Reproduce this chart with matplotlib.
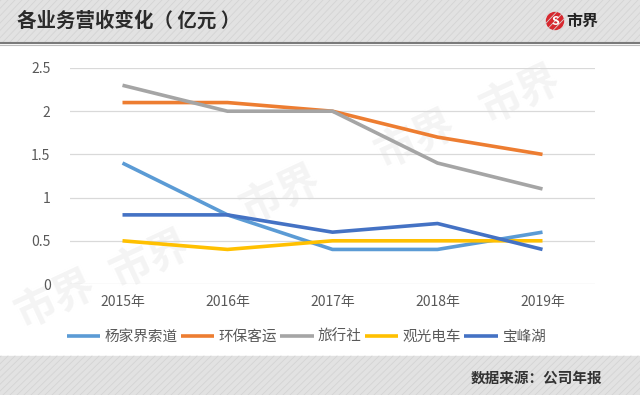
import matplotlib.pyplot as plt
import matplotlib.patches as mpatches
import numpy as np

plt.rcParams['font.family'] = ['Noto Sans CJK SC', 'DejaVu Sans']

years = ['2015年', '2016年', '2017年', '2018年', '2019年']
yangjiajie = [1.4, 0.8, 0.4, 0.4, 0.6]
huanbao = [2.1, 2.1, 2.0, 1.7, 1.5]
lvxingshe = [2.3, 2.0, 2.0, 1.4, 1.1]
guanguang = [0.5, 0.4, 0.5, 0.5, 0.5]
baofenghu = [0.8, 0.8, 0.6, 0.7, 0.4]

names = ['杨家界索道', '环保客运', '旅行社', '观光电车', '宝峰湖']
colors = ['#5B9BD5', '#ED7D31', '#A5A5A5', '#FFC000', '#4472C4']

fig = plt.figure(figsize=(6.4, 3.95), dpi=100)
W, H = 640, 395

# header and footer bands
bg = fig.add_axes([0, 0, 1, 1], zorder=-10)
bg.set_xlim(0, W)
bg.set_ylim(H, 0)
bg.axis('off')
bg.add_patch(mpatches.Rectangle((0, 0), W, 42, color='#e2e2e2'))
bg.add_patch(mpatches.Rectangle((0, 356), W, 39, color='#e2e2e2'))
for x0 in np.arange(-60, W + 60, 7):
    bg.plot([x0, x0 + 40], [42, 0], color='#d4d4d4', lw=0.6)
    bg.plot([x0, x0 + 40], [395, 356], color='#d4d4d4', lw=0.6)
bg.plot([0, W], [42.5, 42.5], color='#7a7a7a', lw=1.5)
bg.plot([0, W], [44.5, 44.5], color='#bdbdbd', lw=0.8)

fig.text(17 / W, 1 - 21 / H, '各业务营收变化（ 亿元 ）', fontsize=14, fontweight='bold',
         color='#2b2b2b', va='center', ha='left')
bg.add_patch(mpatches.Circle((555, 21), 8.5, color='#d7282f'))
bg.text(555, 21.5, 'S', color='white', fontsize=9, fontweight='bold', ha='center', va='center')
bg.text(566, 21, '市界', color='#222222', fontsize=11.5, fontweight='bold', ha='left', va='center')
fig.text(602 / W, 1 - 378 / H, '数据来源：公司年报', fontsize=10.5, fontweight='bold',
         color='#333333', ha='right', va='center')

# faint watermarks
for (wx, wy) in [(55, 300), (150, 260), (280, 195), (415, 140), (520, 95)]:
    bg.text(wx, wy, '市界', fontsize=30, fontweight='bold', color='#f4f4f4',
            rotation=25, ha='center', va='center', zorder=-5)

ax = fig.add_axes([70 / W, 1 - 284 / H, (595 - 70) / W, (284 - 68) / H])
ax.patch.set_alpha(0)
x = np.arange(len(years))
series = [yangjiajie, huanbao, lvxingshe, guanguang, baofenghu]
for vals, name, c in zip(series, names, colors):
    ax.plot(x, vals, color=c, lw=2.6, label=name, solid_capstyle='butt')

ax.set_xlim(-0.5, len(years) - 0.5)
ax.set_ylim(0, 2.5)
ax.set_yticks([0, 0.5, 1, 1.5, 2, 2.5])
ax.set_yticklabels(['0', '0.5', '1', '1.5', '2', '2.5'])
ax.set_xticks(x)
ax.set_xticklabels(years)
ax.grid(axis='y', color='#d9d9d9', lw=0.9)
ax.set_axisbelow(True)
for s in ax.spines.values():
    s.set_visible(False)
ax.tick_params(length=0, labelsize=10, colors='#595959')
ax.tick_params(axis='y', pad=14)
ax.tick_params(axis='x', pad=8)

ax.legend(loc='center', bbox_to_anchor=(0.45, -0.245), ncol=5, frameon=False,
          fontsize=10.5, handlelength=2.3, handletextpad=0.3, columnspacing=0.2,
          labelcolor='#595959')

fig.savefig('out.png', dpi=100)
